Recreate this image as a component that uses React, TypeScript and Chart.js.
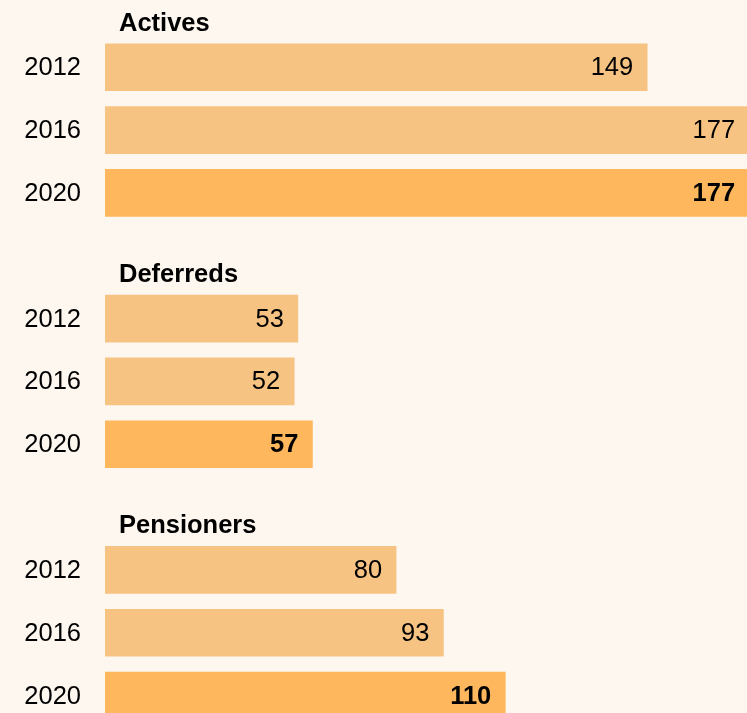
import React, { useEffect, useRef } from "react";
import { Chart, registerables } from "chart.js";

Chart.register(...registerables);

const groups = ["Actives", "Deferreds", "Pensioners"];
const years = ["2012", "2016", "2020"];
const actives = [149, 177, 177];
const deferreds = [53, 52, 57];
const pensioners = [80, 93, 110];
const xMax = 180;

const BG = "#fdf7f0";
const LIGHT = "#f7c383";
const DARK = "#feb75c";
const FONT = "'Liberation Sans', Arial, sans-serif";

const groupValues = [actives, deferreds, pensioners];

// rows: one title row followed by the three year rows, per group
const rowLabels: string[] = [];
const rowValues: (number | null)[] = [];
const rowColors: string[] = [];
const rowIsTitle: boolean[] = [];
const rowTitle: string[] = [];
groups.forEach((g, gi) => {
  rowLabels.push("");
  rowValues.push(null);
  rowColors.push("transparent");
  rowIsTitle.push(true);
  rowTitle.push(g);
  years.forEach((y, yi) => {
    rowLabels.push(y);
    rowValues.push(groupValues[gi][yi]);
    rowColors.push(yi === years.length - 1 ? DARK : LIGHT);
    rowIsTitle.push(false);
    rowTitle.push("");
  });
});

const labelPlugin = {
  id: "customLabels",
  afterDatasetsDraw(chart: any) {
    const ctx = chart.ctx;
    const meta = chart.getDatasetMeta(0);
    const yScale = chart.scales.y;
    ctx.save();
    ctx.fillStyle = "#000";
    meta.data.forEach((el: any, i: number) => {
      const v = rowValues[i];
      if (v == null) return;
      const bold = i % 4 === 3;
      ctx.font = `${bold ? "bold " : ""}25.5px ${FONT}`;
      ctx.textAlign = "right";
      ctx.textBaseline = "middle";
      ctx.fillText(String(v), el.x - 14, el.y + 1);
      // category (year) label
      ctx.font = `25.5px ${FONT}`;
      ctx.fillText(rowLabels[i], 81, el.y + 1);
    });
    rowIsTitle.forEach((t, i) => {
      if (!t) return;
      const nextCenter = yScale.getPixelForValue(i + 1);
      const barTop = nextCenter - 23.5;
      ctx.font = `bold 25.5px ${FONT}`;
      ctx.textAlign = "left";
      ctx.textBaseline = "alphabetic";
      ctx.fillText(rowTitle[i], 119, barTop - 13);
    });
    ctx.restore();
  },
};

export default function App() {
  const ref = useRef<HTMLCanvasElement>(null);
  useEffect(() => {
    if (!ref.current) return;
    const chart = new Chart(ref.current, {
      type: "bar",
      data: {
        labels: rowLabels,
        datasets: [
          {
            data: rowValues as any,
            backgroundColor: rowColors,
            barThickness: 47,
            borderWidth: 0,
          },
        ],
      },
      options: {
        indexAxis: "y",
        responsive: false,
        animation: false,
        layout: { padding: { left: 105, right: 0, top: 0, bottom: 0 } },
        plugins: {
          legend: { display: false },
          tooltip: { enabled: false },
          title: { display: false },
        },
        scales: {
          x: {
            display: false,
            min: 0,
            max: xMax,
          },
          y: {
            display: false,
          },
        },
      },
      plugins: [labelPlugin],
    });
    return () => chart.destroy();
  }, []);

  return (
    <div
      style={{
        position: "absolute",
        left: 0,
        top: 0,
        width: 747,
        height: 713,
        overflow: "hidden",
        background: BG,
      }}
    >
      <canvas
        ref={ref}
        width={760}
        height={754}
        style={{ position: "absolute", left: 0, top: -27, width: 760, height: 754 }}
      />
    </div>
  );
}
